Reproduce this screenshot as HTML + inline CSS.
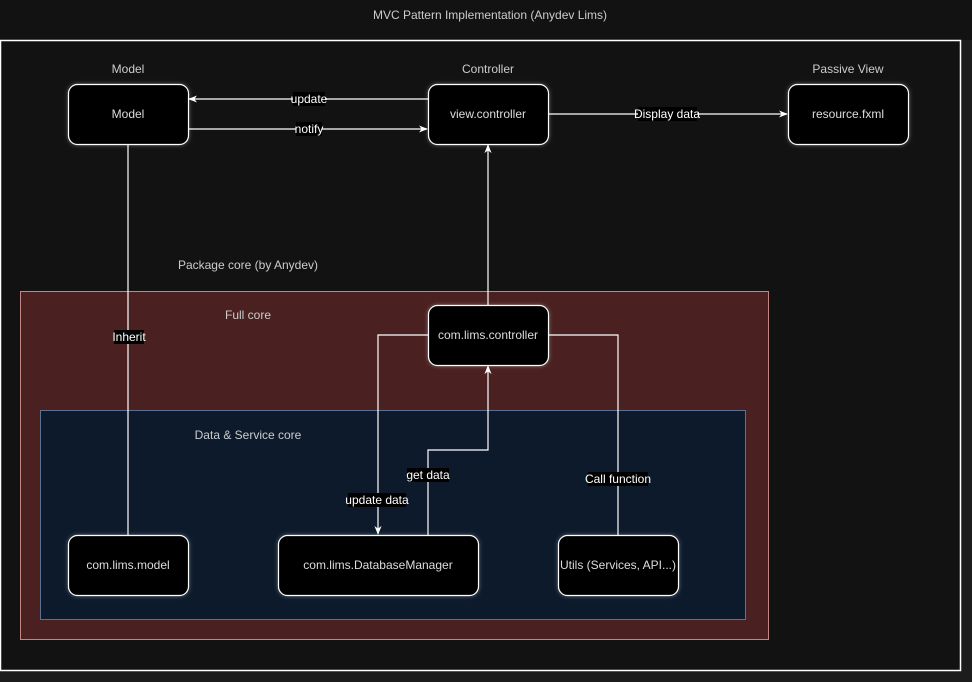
<!DOCTYPE html>
<html><head><meta charset="utf-8"><style>
html,body{margin:0;padding:0;background:#121212;width:972px;height:682px;overflow:hidden}
svg text{font-family:"Liberation Sans",Arial,sans-serif;font-size:12px}
</style></head><body>
<svg width="972" height="682" viewBox="0 0 972 682" xmlns="http://www.w3.org/2000/svg">
<defs>
<filter id="g" x="-20%" y="-20%" width="140%" height="140%"><feDropShadow dx="0" dy="0" stdDeviation="2" flood-color="#ffffff" flood-opacity="0.35"/></filter>
<marker id="a" viewBox="0 0 10 10" refX="9" refY="5" markerWidth="9" markerHeight="9" markerUnits="userSpaceOnUse" orient="auto"><path d="M0,1 L10,5 L0,9 L3,5 z" fill="#fff"/></marker>
</defs>
<rect x="0" y="0" width="972" height="682" fill="#121212"/>
<rect x="961" y="40" width="11" height="642" fill="#1c1c1c"/>
<rect x="0" y="671" width="972" height="11" fill="#1c1c1c"/>
<rect x="0.5" y="40.5" width="960" height="630" fill="#121212" stroke="#fff" stroke-width="1.5"/>
<text x="490" y="19" fill="#ccc" text-anchor="middle">MVC Pattern Implementation (Anydev Lims)</text>
<rect x="20.5" y="291.5" width="748" height="348" fill="#4a2020" stroke="#c48585" stroke-width="1"/>
<rect x="40.5" y="410.5" width="705" height="209" fill="#0c1a2b" stroke="#5d7090" stroke-width="1"/>
<text x="128" y="73" fill="#ccc" text-anchor="middle">Model</text>
<text x="488" y="73" fill="#ccc" text-anchor="middle">Controller</text>
<text x="848" y="73" fill="#ccc" text-anchor="middle">Passive View</text>
<text x="248" y="269" fill="#ccc" text-anchor="middle">Package core (by Anydev)</text>
<text x="248" y="319" fill="#ccc" text-anchor="middle">Full core</text>
<text x="248" y="439" fill="#ccc" text-anchor="middle">Data &amp; Service core</text>
<g stroke="#fff" stroke-width="1.2" fill="none">
<line x1="428" y1="99" x2="189" y2="99" marker-end="url(#a)"/>
<line x1="188" y1="129" x2="427" y2="129" marker-end="url(#a)"/>
<line x1="548" y1="114" x2="787" y2="114" marker-end="url(#a)"/>
<line x1="128" y1="144" x2="128" y2="535"/>
<line x1="488" y1="305" x2="488" y2="145" marker-end="url(#a)"/>
<polyline points="428,335 378,335 378,534" marker-end="url(#a)"/>
<polyline points="428,535 428,450 488,450 488,366" marker-end="url(#a)"/>
<polyline points="548,335 618,335 618,535"/>
</g>
<g fill="#000" stroke="#fff" stroke-width="1.2" filter="url(#g)">
<rect x="68.5" y="84.5" width="120" height="60" rx="9"/>
<rect x="428.5" y="84.5" width="120" height="60" rx="9"/>
<rect x="788.5" y="84.5" width="120" height="60" rx="9"/>
<rect x="428.5" y="305.5" width="120" height="60" rx="9"/>
<rect x="68.5" y="535.5" width="120" height="60" rx="9"/>
<rect x="278.5" y="535.5" width="200" height="60" rx="9"/>
<rect x="558.5" y="535.5" width="120" height="60" rx="9"/>
</g>
<g fill="#ddd" text-anchor="middle">
<text x="128" y="118">Model</text>
<text x="488" y="118">view.controller</text>
<text x="848" y="118">resource.fxml</text>
<text x="488" y="339">com.lims.controller</text>
<text x="128" y="569">com.lims.model</text>
<text x="378" y="569">com.lims.DatabaseManager</text>
<text x="618" y="569">Utils (Services, API...)</text>
</g>
<g fill="#000">
<rect x="293" y="92" width="32" height="14"/>
<rect x="296" y="122" width="26" height="14"/>
<rect x="638" y="107" width="59" height="14"/>
<rect x="114" y="330" width="30" height="14"/>
<rect x="348" y="493" width="58" height="14"/>
<rect x="407" y="468" width="42" height="14"/>
<rect x="588" y="472" width="60" height="14"/>
</g>
<g fill="#fff" text-anchor="middle" style="font-size:10.5px">
<text x="309" y="103">update</text>
<text x="309" y="133">notify</text>
<text x="667" y="118">Display data</text>
<text x="129" y="341">Inherit</text>
<text x="377" y="504">update data</text>
<text x="428" y="479">get data</text>
<text x="618" y="483">Call function</text>
</g>
</svg>
</body></html>
